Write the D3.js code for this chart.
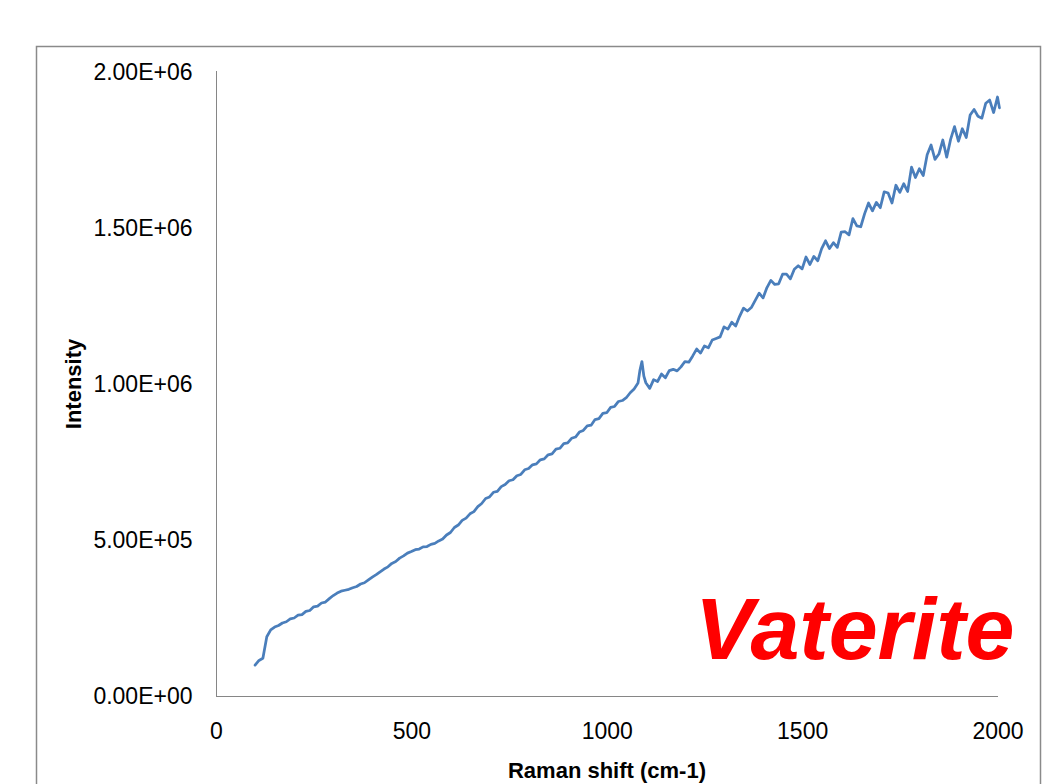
<!DOCTYPE html>
<html><head><meta charset="utf-8">
<script src="https://cdn.jsdelivr.net/npm/d3@7"></script>
<style>
html,body{margin:0;padding:0;background:#fff;}
svg{display:block;}
</style></head>
<body>
<script>
// Raman shift (cm-1)
const ramanShift = [100,110,120,130,140,150,160,170,180,190,200,210,220,230,240,250,260,270,280,290,
300,310,320,330,340,350,360,370,380,390,400,410,420,430,440,450,460,470,480,490,
500,510,520,530,540,550,560,570,580,590,600,610,620,630,640,650,660,670,680,690,
700,710,720,730,740,750,760,770,780,790,800,810,820,830,840,850,860,870,880,890,
900,910,920,930,940,950,960,970,980,990,1000,1010,1020,1030,1040,1050,1060,1070,1080,1085,1090,1095,
1100,1110,1120,1130,1140,1150,1160,1170,1180,1190,1200,1210,1220,1230,1240,1250,1260,1270,1280,1290,
1300,1310,1320,1330,1340,1350,1360,1370,1380,1390,1400,1410,1420,1430,1440,1450,1460,1470,1480,1490,
1500,1510,1520,1530,1540,1550,1560,1570,1580,1590,1600,1610,1620,1630,1640,1650,1660,1670,1680,1690,
1700,1710,1720,1730,1740,1750,1760,1770,1780,1790,1800,1810,1820,1830,1840,1850,1860,1870,1880,1890,
1900,1910,1920,1930,1940,1950,1960,1970,1980,1990,2000,2005];
// Intensity, in thousands
const intensityK = [99,114,121,190,212,221,226,234,238,247,250,259,261,271,274,286,288,298,301,312,
322,330,336,339,342,347,351,359,363,372,381,389,398,407,414,425,431,442,449,458,
463,469,471,478,479,486,489,497,503,516,524,540,548,563,570,584,591,607,617,633,
638,653,656,671,678,690,693,706,710,725,729,741,744,757,760,773,776,791,794,809,
811,826,830,846,851,866,868,886,889,906,908,925,928,944,947,956,972,984,1003,1045,1072,1025,
1004,986,1014,1008,1032,1020,1043,1047,1042,1055,1072,1070,1090,1112,1099,1122,1116,1141,1146,1151,
1183,1176,1198,1186,1217,1243,1234,1245,1268,1291,1276,1309,1332,1319,1321,1352,1352,1337,1368,1379,
1369,1407,1383,1409,1395,1434,1459,1434,1453,1438,1487,1488,1478,1530,1507,1504,1546,1580,1555,1582,
1565,1616,1612,1580,1637,1614,1642,1617,1695,1662,1690,1668,1735,1766,1720,1737,1782,1727,1784,1825,
1778,1818,1790,1862,1880,1858,1852,1900,1910,1870,1920,1885];
const xTicks = [0,500,1000,1500,2000];
const yTicks = [0,500000,1000000,1500000,2000000];
const xTitle = "Raman shift (cm-1)";
const yTitle = "Intensity";
const label = "Vaterite";

const W = 1042, H = 784;
const svg = d3.select("body").append("svg").attr("width", W).attr("height", H);
const font = "'Liberation Sans', Arial, sans-serif";

// outer chart border
svg.append("rect").attr("x",36.5).attr("y",46.5).attr("width",1004).attr("height",800)
  .attr("fill","none").attr("stroke","#8a8a8a").attr("stroke-width",1.5);

const x = d3.scaleLinear().domain([0,2000]).range([216,997.5]);
const y = d3.scaleLinear().domain([0,2000000]).range([696,72]);

// y axis
const ya = svg.append("g").attr("transform","translate(216.5,0)")
  .call(d3.axisLeft(y).tickValues(yTicks).tickSize(0).tickPadding(24)
    .tickFormat(d => d3.format(".2e")(d).replace("e","E").replace(/E([+-])(\d)$/,"E$10$2")));
ya.select(".domain").attr("stroke","#868686").attr("d","M0,71V696.5");
ya.selectAll("text").attr("font-family",font).attr("font-size",23).attr("fill","#000");

// x axis
const xa = svg.append("g").attr("transform","translate(0,696.5)")
  .call(d3.axisBottom(x).tickValues(xTicks).tickSize(0).tickPadding(26).tickFormat(d3.format("d")));
xa.select(".domain").attr("stroke","#868686").attr("d","M216,0H998");
xa.selectAll("text").attr("font-family",font).attr("font-size",23).attr("fill","#000");

// titles
svg.append("text").attr("x",607).attr("y",778).attr("text-anchor","middle")
  .attr("font-family",font).attr("font-weight","bold").attr("font-size",22).text(xTitle);
svg.append("text").attr("transform","translate(81,384) rotate(-90)").attr("text-anchor","middle")
  .attr("font-family",font).attr("font-weight","bold").attr("font-size",22).text(yTitle);

// line
const pts = ramanShift.map((s,i)=>[s, intensityK[i]*1000]);
svg.append("path").datum(pts)
  .attr("fill","none").attr("stroke","#4a7ebb").attr("stroke-width",2.75)
  .attr("stroke-linejoin","round").attr("stroke-linecap","round")
  .attr("d", d3.line().x(d=>x(d[0])).y(d=>y(d[1])));

// label
svg.append("text").attr("x",695).attr("y",659)
  .attr("font-family",font).attr("font-weight","bold").attr("font-style","italic")
  .attr("font-size",88).attr("fill","#ff0000").text(label);
</script>
</body></html>
